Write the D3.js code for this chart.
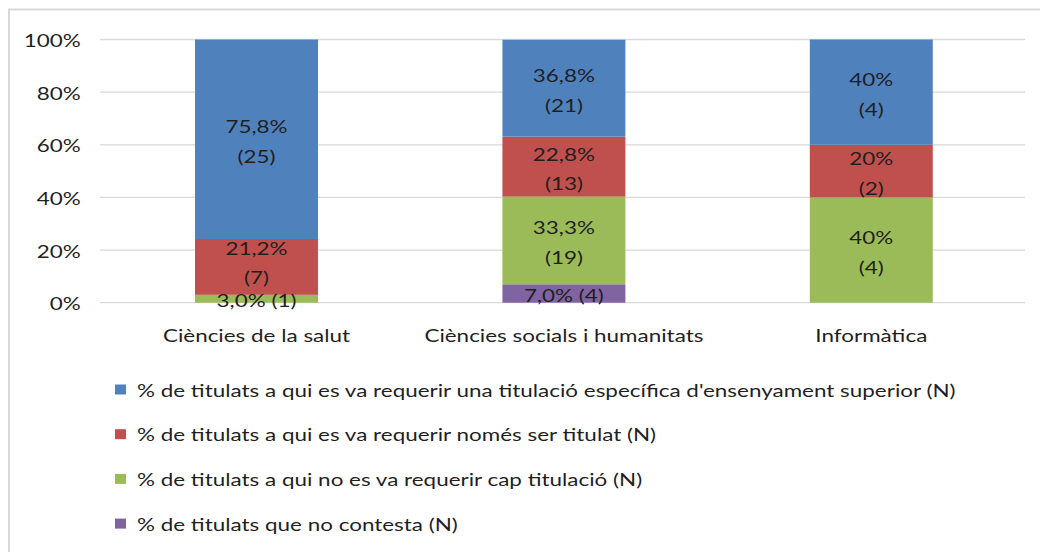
<!DOCTYPE html>
<html>
<head>
<meta charset="utf-8">
<script src="https://cdn.jsdelivr.net/npm/d3@7"></script>
<style>
  body { margin: 0; background: #fff; }
  svg { display: block; font-family: Lato, "Open Sans", sans-serif; }
</style>
</head>
<body>
<svg width="1040" height="552"></svg>
<script>
const categories = ['Ciències de la salut', 'Ciències socials i humanitats', 'Informàtica'];
const seriesNames = [
  "% de titulats que no contesta (N)",
  "% de titulats a qui no es va requerir cap titulació (N)",
  "% de titulats a qui es va requerir només ser titulat (N)",
  "% de titulats a qui es va requerir una titulació específica d'ensenyament superior (N)"
];
// bottom to top
const pctNoContesta = [0, 7.0, 0];
const pctCap = [3.0, 33.3, 40];
const pctNomes = [21.2, 22.8, 20];
const pctEspecifica = [75.8, 36.8, 40];
const nNoContesta = [0, 4, 0];
const nCap = [1, 19, 4];
const nNomes = [7, 13, 2];
const nEspecifica = [25, 21, 4];
const pctLabels = [
  ['', '7,0%', ''],
  ['3,0%', '33,3%', '40%'],
  ['21,2%', '22,8%', '20%'],
  ['75,8%', '36,8%', '40%']
];
const yTicks = [0, 20, 40, 60, 80, 100];
const colors = ['#8064a2', '#9bbb59', '#c0504d', '#4f81bd'];

const pcts = [pctNoContesta, pctCap, pctNomes, pctEspecifica];
const counts = [nNoContesta, nCap, nNomes, nEspecifica];

const fontSize = 16.5;
const sx = 1.36;          // the picture is stretched horizontally
const textColor = '#1f1f1f';

const svg = d3.select('svg');
const margin = { top: 39.5, left: 102.8, right: 15 };
const plotBottom = 302.7;

// puts a horizontally stretched text at (x, y)
function stretchedText(x, y, str, anchor) {
  return svg.append('g')
    .attr('transform', `translate(${x},${y}) scale(${sx},1)`)
    .append('text')
    .attr('text-anchor', anchor || 'middle')
    .style('font-size', fontSize + 'px')
    .style('fill', textColor)
    .text(str);
}

// chart frame
svg.append('rect')
  .attr('x', 9).attr('y', 9.5)
  .attr('width', 1040).attr('height', 560)
  .style('fill', 'none')
  .style('stroke', '#d9d9d9')
  .style('stroke-width', 2);

const x = d3.scaleBand()
  .domain(categories)
  .range([margin.left, 1040 - margin.right])
  .paddingInner(0.6)
  .paddingOuter(0.3);

const y = d3.scaleLinear()
  .domain([0, 100])
  .range([plotBottom, margin.top]);

// grid
svg.selectAll('line.grid')
  .data(yTicks)
  .enter().append('line')
  .attr('class', 'grid')
  .attr('x1', 100).attr('x2', 1040 - margin.right)
  .attr('y1', d => y(d)).attr('y2', d => y(d))
  .style('stroke', '#d9d9d9')
  .style('stroke-width', 1.3);

// y axis labels
const yAxis = d3.axisLeft(y).tickValues(yTicks).tickSize(0).tickPadding(22).tickFormat(d => d + '%');
svg.append('g')
  .attr('transform', `translate(${margin.left},0)`)
  .call(yAxis)
  .call(g => g.select('.domain').remove())
  .call(g => g.selectAll('text')
    .attr('x', -22 / sx)
    .attr('dy', 7)
    .attr('transform', `scale(${sx},1)`)
    .style('font-family', 'Lato, sans-serif')
    .style('font-size', fontSize + 'px')
    .style('fill', textColor));

// stacked data
const rows = categories.map((c, i) => {
  const r = { cat: c, i };
  pcts.forEach((s, k) => { r['s' + k] = s[i]; });
  return r;
});
const stack = d3.stack().keys(pcts.map((s, k) => 's' + k));
const stacked = stack(rows);

svg.selectAll('g.series')
  .data(stacked)
  .enter().append('g')
  .attr('class', 'series')
  .style('fill', (d, k) => colors[k])
  .selectAll('rect')
  .data(d => d)
  .enter().append('rect')
  .attr('x', d => x(d.data.cat))
  .attr('width', x.bandwidth())
  .attr('y', d => y(d[1]))
  .attr('height', d => y(d[0]) - y(d[1]));

// bar labels (the small red one in the first bar sits a bit higher)
stacked.forEach((layer, k) => {
  layer.forEach((d, i) => {
    const v = pcts[k][i];
    if (!v) return;
    const cx = x(d.data.cat) + x.bandwidth() / 2;
    let cy = (y(d[0]) + y(d[1])) / 2;
    if (k === 2 && i === 0) cy -= 6;
    if (v < 10) {
      stretchedText(cx, cy + 8.5, pctLabels[k][i] + ' (' + counts[k][i] + ')');
    } else {
      stretchedText(cx, cy - 6, pctLabels[k][i]);
      stretchedText(cx, cy + 23.5, '(' + counts[k][i] + ')');
    }
  });
});

// x axis labels
const xAxis = d3.axisBottom(x).tickSize(0).tickPadding(28);
svg.append('g')
  .attr('transform', `translate(0,${plotBottom})`)
  .call(xAxis)
  .call(g => g.select('.domain').remove())
  .call(g => g.selectAll('text')
    .attr('dy', 0)
    .attr('y', 39)
    .attr('transform', `scale(${sx},1)`)
    .style('font-family', 'Lato, sans-serif')
    .style('font-size', fontSize + 'px')
    .style('fill', textColor));

// legend
const legendOrder = [3, 2, 1, 0];
legendOrder.forEach((s, j) => {
  const cy = 389.5 + j * 44.7;
  svg.append('rect')
    .attr('x', 115).attr('y', cy - 5)
    .attr('width', 11).attr('height', 10)
    .style('fill', colors[s]);
  stretchedText(137, cy + 7, seriesNames[s], 'start');
});
</script>
</body>
</html>
